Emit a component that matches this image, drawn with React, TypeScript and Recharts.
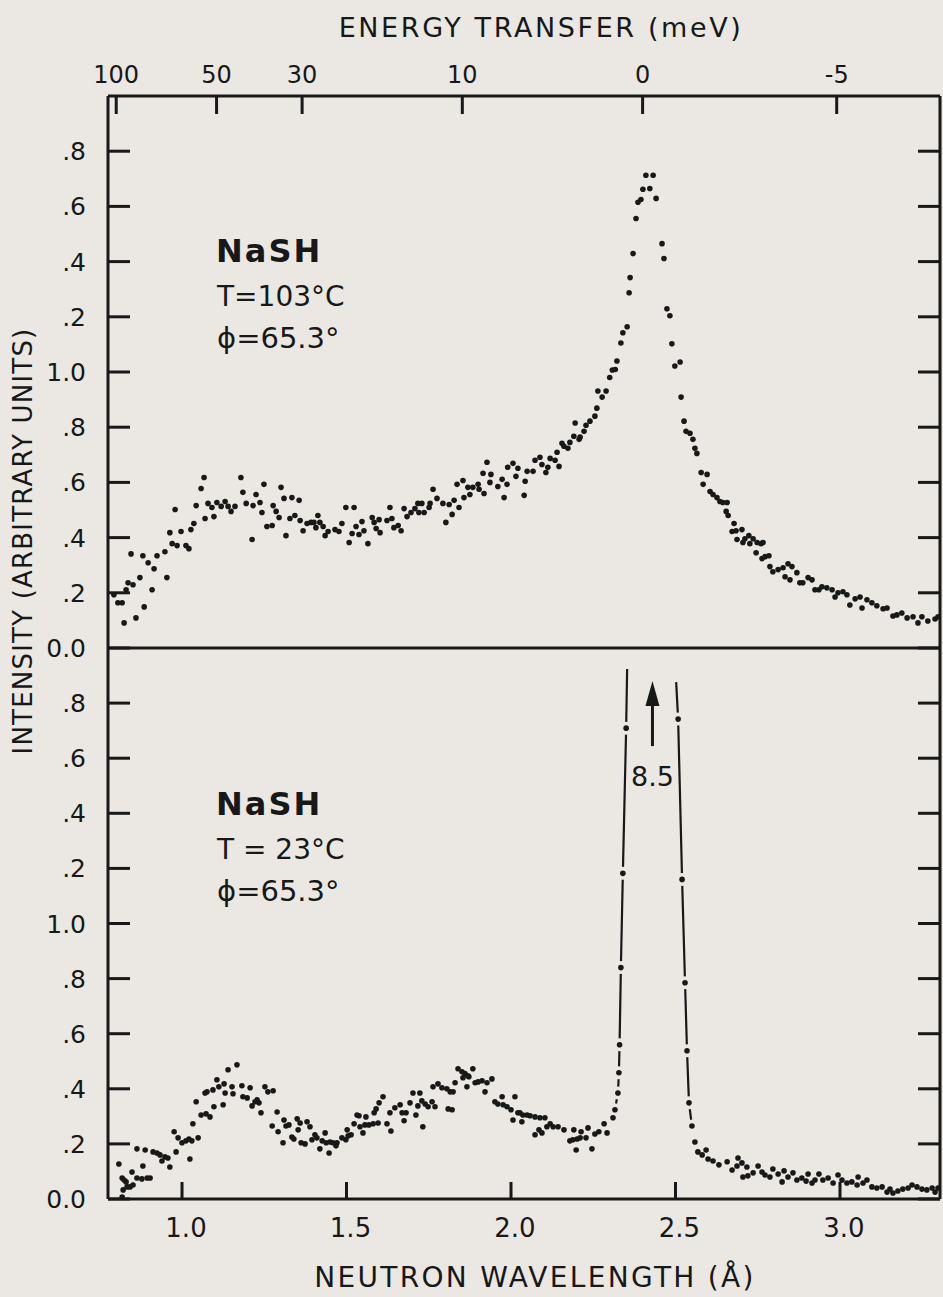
import React from "react";
import { ScatterChart, Scatter, XAxis, YAxis, ReferenceLine, ReferenceDot } from "recharts";

const BG = "#ebe8e3";
const INK = "#181818";
const FONT = "'DejaVu Sans', 'Liberation Sans', sans-serif";

// wavelength (Å) and intensity ranges, shared by both panels
const X_DOMAIN: [number, number] = [0.775, 3.304];
const Y_DOMAIN: [number, number] = [0, 2];

// bottom axis
const wavelengthTicks = [1.0, 1.5, 2.0, 2.5, 3.0];
const wavelengthLabels = ["1.0", "1.5", "2.0", "2.5", "3.0"];

// top axis: energy transfer marks, placed at their wavelength
const energyTickWl = [0.8, 1.105, 1.365, 1.852, 2.4, 2.99];
const energyLabels = ["100", "50", "30", "10", "0", "-5"];

const intensityTicks = [0, 0.2, 0.4, 0.6, 0.8, 1.0, 1.2, 1.4, 1.6, 1.8];
const intensityLabels = ["0.0", ".2", ".4", ".6", ".8", "1.0", ".2", ".4", ".6", ".8"];

// T = 103 C  [wavelength, intensity]
const hotLow: number[][] = [
  [0.793, 0.193], [0.805, 0.164], [0.818, 0.164], [0.824, 0.091], [0.83, 0.211], [0.836, 0.236],
  [0.845, 0.341], [0.851, 0.229], [0.86, 0.109], [0.872, 0.255], [0.881, 0.334], [0.885, 0.149],
  [0.897, 0.309], [0.909, 0.211], [0.915, 0.287], [0.924, 0.334], [0.948, 0.349], [0.954, 0.255],
  [0.963, 0.418], [0.97, 0.378], [0.979, 0.502], [0.985, 0.371], [0.997, 0.422], [1.012, 0.371],
  [1.021, 0.36], [1.027, 0.429], [1.036, 0.451], [1.043, 0.516], [1.058, 0.578], [1.067, 0.618],
  [1.07, 0.469], [1.079, 0.524], [1.091, 0.509], [1.097, 0.476], [1.106, 0.527], [1.119, 0.513],
  [1.131, 0.531], [1.14, 0.513], [1.149, 0.495], [1.161, 0.513], [1.179, 0.618], [1.185, 0.564],
  [1.195, 0.524], [1.213, 0.393], [1.216, 0.516], [1.225, 0.556], [1.237, 0.527], [1.243, 0.491],
  [1.249, 0.593], [1.258, 0.44], [1.274, 0.444], [1.277, 0.516], [1.286, 0.495], [1.295, 0.473],
  [1.301, 0.582], [1.31, 0.542], [1.316, 0.407], [1.328, 0.469], [1.334, 0.545], [1.343, 0.48],
  [1.356, 0.535], [1.359, 0.462], [1.368, 0.425], [1.38, 0.451], [1.392, 0.455], [1.401, 0.455],
  [1.407, 0.436], [1.413, 0.48], [1.419, 0.455], [1.429, 0.44], [1.435, 0.407], [1.444, 0.422],
  [1.465, 0.429], [1.477, 0.422], [1.486, 0.451], [1.498, 0.509], [1.508, 0.382], [1.517, 0.415],
  [1.523, 0.509], [1.529, 0.44], [1.538, 0.411], [1.547, 0.458], [1.553, 0.425], [1.565, 0.378],
  [1.578, 0.473], [1.584, 0.455], [1.59, 0.433], [1.599, 0.465], [1.602, 0.418], [1.623, 0.462],
  [1.632, 0.509], [1.638, 0.469], [1.644, 0.436], [1.657, 0.444], [1.666, 0.425], [1.675, 0.505],
  [1.684, 0.476], [1.696, 0.491], [1.708, 0.505], [1.717, 0.524], [1.72, 0.491], [1.729, 0.524],
  [1.736, 0.491], [1.751, 0.509], [1.754, 0.524], [1.763, 0.575], [1.775, 0.542], [1.793, 0.524],
  [1.802, 0.455], [1.812, 0.52], [1.821, 0.484], [1.827, 0.535], [1.836, 0.593], [1.842, 0.509],
  [1.854, 0.607], [1.857, 0.545], [1.869, 0.582], [1.875, 0.556], [1.884, 0.582], [1.9, 0.593],
  [1.903, 0.575], [1.915, 0.633], [1.918, 0.56], [1.927, 0.673], [1.936, 0.6], [1.939, 0.629],
  [1.96, 0.585], [1.973, 0.611], [1.979, 0.545], [1.988, 0.593], [1.99, 0.655], [2.006, 0.669],
  [2.015, 0.622], [2.021, 0.651],
];

const hotPeak: number[][] = [
  [2.04, 0.553], [2.043, 0.604], [2.049, 0.64], [2.067, 0.64], [2.073, 0.68], [2.088, 0.691],
  [2.094, 0.665], [2.106, 0.636], [2.112, 0.655], [2.119, 0.687], [2.134, 0.68], [2.14, 0.709],
  [2.146, 0.658], [2.155, 0.742], [2.161, 0.731], [2.173, 0.724], [2.179, 0.745], [2.191, 0.767],
  [2.195, 0.815], [2.207, 0.756], [2.21, 0.764], [2.222, 0.785], [2.228, 0.807], [2.24, 0.822],
  [2.255, 0.84], [2.261, 0.869], [2.264, 0.931], [2.277, 0.909], [2.289, 0.931], [2.3, 0.98],
  [2.308, 1.007], [2.317, 1.009], [2.322, 1.04], [2.334, 1.105], [2.34, 1.142], [2.353, 1.164],
  [2.359, 1.287], [2.362, 1.342], [2.371, 1.429], [2.38, 1.556], [2.386, 1.615], [2.395, 1.625],
  [2.401, 1.662], [2.41, 1.713], [2.422, 1.665], [2.432, 1.713], [2.441, 1.629], [2.459, 1.465],
  [2.465, 1.411], [2.474, 1.229], [2.483, 1.204], [2.489, 1.102], [2.498, 1.022], [2.514, 1.036],
  [2.517, 0.909], [2.526, 0.822], [2.532, 0.785], [2.544, 0.778], [2.553, 0.756], [2.559, 0.724],
  [2.565, 0.705], [2.578, 0.636], [2.584, 0.593], [2.596, 0.629], [2.605, 0.567], [2.614, 0.556],
  [2.626, 0.545], [2.635, 0.531], [2.644, 0.527], [2.657, 0.527],
];

const hotTail: number[][] = [
  [2.654, 0.495], [2.66, 0.48], [2.672, 0.422], [2.678, 0.451], [2.684, 0.425], [2.687, 0.393],
  [2.702, 0.429], [2.705, 0.382], [2.711, 0.396], [2.723, 0.407], [2.726, 0.378], [2.736, 0.396],
  [2.745, 0.345], [2.748, 0.382], [2.76, 0.378], [2.763, 0.324], [2.766, 0.382], [2.772, 0.331],
  [2.784, 0.334], [2.787, 0.295], [2.796, 0.276], [2.812, 0.284], [2.827, 0.291], [2.833, 0.258],
  [2.842, 0.305], [2.848, 0.247], [2.854, 0.295], [2.869, 0.273], [2.878, 0.236], [2.887, 0.236],
  [2.903, 0.255], [2.915, 0.247], [2.924, 0.211], [2.936, 0.211], [2.945, 0.222], [2.96, 0.218],
  [2.976, 0.211], [2.985, 0.185], [2.994, 0.2], [3.009, 0.204], [3.021, 0.193], [3.03, 0.156],
  [3.046, 0.178], [3.061, 0.185], [3.067, 0.145], [3.082, 0.175], [3.097, 0.164], [3.112, 0.153],
  [3.131, 0.142], [3.143, 0.145], [3.161, 0.116], [3.173, 0.12], [3.188, 0.127], [3.204, 0.109],
  [3.222, 0.113], [3.237, 0.091], [3.249, 0.113], [3.267, 0.098], [3.289, 0.105], [3.298, 0.113],
];

// T = 23 C
const coldLow: number[][] = [
  [0.808, 0.127], [0.818, 0.076], [0.824, 0.069], [0.83, 0.062], [0.821, 0.033], [0.833, 0.044],
  [0.842, 0.044], [0.851, 0.051], [0.818, 0.007], [0.848, 0.098], [0.863, 0.076], [0.878, 0.073],
  [0.894, 0.076], [0.903, 0.076], [0.863, 0.182], [0.881, 0.12], [0.888, 0.178], [0.912, 0.171],
  [0.924, 0.167], [0.933, 0.16], [0.939, 0.138], [0.948, 0.153], [0.957, 0.149], [0.963, 0.116],
  [0.976, 0.244], [0.982, 0.171], [0.988, 0.222], [1.0, 0.204], [1.012, 0.211], [1.021, 0.218],
  [1.03, 0.211], [1.024, 0.145], [1.033, 0.273], [1.043, 0.353], [1.049, 0.222], [1.058, 0.305],
  [1.073, 0.309], [1.085, 0.298], [1.07, 0.385], [1.076, 0.389], [1.094, 0.396], [1.097, 0.335],
  [1.106, 0.433], [1.112, 0.407], [1.125, 0.342], [1.128, 0.418], [1.131, 0.385], [1.14, 0.469],
  [1.152, 0.407], [1.155, 0.382], [1.167, 0.487], [1.182, 0.411], [1.185, 0.371], [1.198, 0.367],
  [1.207, 0.404], [1.213, 0.338], [1.222, 0.353], [1.228, 0.36], [1.234, 0.349], [1.24, 0.313],
  [1.252, 0.407], [1.261, 0.389], [1.277, 0.393], [1.274, 0.265], [1.289, 0.316], [1.292, 0.244],
  [1.307, 0.204], [1.31, 0.287], [1.316, 0.265], [1.325, 0.269], [1.334, 0.225], [1.34, 0.218],
  [1.35, 0.291], [1.359, 0.276], [1.353, 0.251], [1.362, 0.204], [1.374, 0.2], [1.38, 0.28],
  [1.389, 0.262], [1.395, 0.215], [1.404, 0.233], [1.41, 0.222], [1.419, 0.182], [1.426, 0.211],
  [1.435, 0.24], [1.438, 0.204], [1.447, 0.167], [1.45, 0.207], [1.459, 0.204], [1.468, 0.193],
  [1.471, 0.204], [1.486, 0.222], [1.498, 0.215], [1.505, 0.229], [1.514, 0.233], [1.502, 0.251],
  [1.523, 0.273], [1.532, 0.305], [1.538, 0.302], [1.541, 0.262], [1.55, 0.24], [1.556, 0.269],
  [1.559, 0.298], [1.568, 0.269], [1.581, 0.273], [1.584, 0.313], [1.59, 0.327], [1.599, 0.349],
  [1.611, 0.371], [1.596, 0.276], [1.623, 0.273], [1.635, 0.247], [1.632, 0.313], [1.647, 0.331],
  [1.663, 0.342], [1.669, 0.313], [1.681, 0.313], [1.675, 0.284], [1.693, 0.349], [1.702, 0.385],
  [1.723, 0.385], [1.711, 0.305], [1.717, 0.338], [1.729, 0.356], [1.732, 0.262], [1.739, 0.345],
  [1.748, 0.335], [1.76, 0.353], [1.769, 0.335], [1.763, 0.407], [1.778, 0.418], [1.79, 0.404],
  [1.805, 0.4], [1.815, 0.389], [1.824, 0.389], [1.809, 0.327], [1.821, 0.324], [1.83, 0.422],
  [1.839, 0.473], [1.851, 0.462], [1.86, 0.455], [1.869, 0.447], [1.854, 0.44], [1.866, 0.407],
  [1.872, 0.444], [1.884, 0.473], [1.891, 0.422], [1.9, 0.425], [1.912, 0.429], [1.921, 0.389],
  [1.927, 0.422], [1.942, 0.436], [1.951, 0.353], [1.96, 0.345], [1.973, 0.371], [1.976, 0.342],
  [1.988, 0.335], [2.0, 0.324], [2.006, 0.287], [2.012, 0.371], [2.021, 0.313],
];

const coldMid: number[][] = [
  [2.027, 0.313], [2.036, 0.305], [2.049, 0.305], [2.058, 0.302], [2.073, 0.298], [2.088, 0.295],
  [2.103, 0.295], [2.033, 0.28], [2.073, 0.233], [2.085, 0.251], [2.094, 0.24], [2.109, 0.262],
  [2.119, 0.273], [2.128, 0.262], [2.143, 0.262], [2.161, 0.251], [2.179, 0.211], [2.188, 0.215],
  [2.201, 0.218], [2.21, 0.222], [2.228, 0.222], [2.191, 0.251], [2.213, 0.244], [2.234, 0.258],
  [2.198, 0.178], [2.246, 0.182], [2.255, 0.236], [2.267, 0.244], [2.283, 0.273], [2.292, 0.24],
  [2.31, 0.295],
];

// dots sitting on the hand-drawn lines of the elastic peak
const coldPeakLeft: number[][] = [
  [2.316, 0.324], [2.325, 0.385], [2.328, 0.458], [2.33, 0.56], [2.334, 0.84], [2.34, 1.182], [2.35, 1.709],
];
const coldPeakLeftTop: number[] = [2.353, 1.924];
const coldPeakRightTop: number[] = [2.502, 1.876];
const coldPeakRight: number[][] = [
  [2.508, 1.742], [2.52, 1.16], [2.529, 0.785], [2.535, 0.538], [2.541, 0.349], [2.55, 0.265],
];

const coldTail: number[][] = [
  [2.559, 0.207], [2.568, 0.171], [2.581, 0.16], [2.593, 0.178], [2.599, 0.145], [2.614, 0.138],
  [2.632, 0.124], [2.657, 0.135], [2.672, 0.105], [2.687, 0.12], [2.69, 0.149], [2.702, 0.131],
  [2.717, 0.116], [2.705, 0.08], [2.72, 0.084], [2.736, 0.095], [2.751, 0.12], [2.763, 0.098],
  [2.772, 0.087], [2.787, 0.08], [2.796, 0.109], [2.812, 0.091], [2.824, 0.062], [2.83, 0.102],
  [2.842, 0.08], [2.857, 0.095], [2.869, 0.069], [2.884, 0.076], [2.897, 0.065], [2.903, 0.091],
  [2.915, 0.058], [2.924, 0.069], [2.936, 0.091], [2.948, 0.069], [2.964, 0.076], [2.979, 0.058],
  [2.994, 0.087], [3.006, 0.069], [3.021, 0.058], [3.036, 0.062], [3.052, 0.051], [3.055, 0.08],
  [3.07, 0.058], [3.082, 0.069], [3.097, 0.044], [3.112, 0.04], [3.128, 0.044], [3.143, 0.025],
  [3.152, 0.036], [3.161, 0.022], [3.176, 0.029], [3.191, 0.036], [3.207, 0.04], [3.219, 0.051],
  [3.234, 0.044], [3.249, 0.036], [3.264, 0.033], [3.28, 0.04], [3.289, 0.025], [3.298, 0.04],
];

// "8.5" arrow: peak height off the scale
const arrowWl = 2.43;
const arrowFrom = 1.644;
const arrowTip = 1.88;
const peakNote = "8.5";
const peakNoteY = 1.535;

const toXY = (rows: number[][]) => rows.map(([x, y]) => ({ x, y }));

const Dot = (p: any) => <circle cx={p.cx} cy={p.cy} r={2.8} fill={INK} />;
// dot with a clear ring so the drawn line breaks around it
const GapDot = (p: any) => (
  <g>
    <circle cx={p.cx} cy={p.cy} r={6.5} fill={BG} />
    <circle cx={p.cx} cy={p.cy} r={2.8} fill={INK} />
  </g>
);
const NoDot = () => <g />;

const LeftTick = (p: any) => {
  const i = intensityTicks.indexOf(p.payload.value);
  return (
    <g>
      <line x1={p.x} x2={p.x + 22} y1={p.y} y2={p.y} stroke={INK} strokeWidth={3} />
      <text x={p.x - 22} y={p.y + 9} textAnchor="end" fontSize={25} fill={INK} fontFamily={FONT}>
        {intensityLabels[i]}
      </text>
    </g>
  );
};

const RightTick = (p: any) => (
  <line x1={p.x} x2={p.x - 22} y1={p.y} y2={p.y} stroke={INK} strokeWidth={3} />
);

const TopTick = (p: any) => {
  const i = energyTickWl.indexOf(p.payload.value);
  return (
    <g>
      <line x1={p.x} x2={p.x} y1={p.y} y2={p.y + 18} stroke={INK} strokeWidth={3} />
      <text x={p.x} y={p.y - 13} textAnchor="middle" fontSize={24} fill={INK} fontFamily={FONT}>
        {energyLabels[i]}
      </text>
    </g>
  );
};

const BottomTick = (p: any) => {
  const i = wavelengthTicks.indexOf(p.payload.value);
  return (
    <g>
      <line x1={p.x} x2={p.x} y1={p.y} y2={p.y - 17} stroke={INK} strokeWidth={3} />
      <text x={p.x + 4} y={p.y + 38} textAnchor="middle" fontSize={26} fill={INK} fontFamily={FONT}>
        {wavelengthLabels[i]}
      </text>
    </g>
  );
};

const axisLine = { stroke: INK, strokeWidth: 3 };

const PanelNote = ({ y, t }: { y: number; t: string }) => (
  <g fill={INK} fontFamily={FONT}>
    <text x={216} y={y} fontSize={32} fontWeight="bold" letterSpacing={2}>NaSH</text>
    <text x={217} y={y + 44} fontSize={28}>{t}</text>
    <text x={217} y={y + 86} fontSize={29}>ϕ=65.3°</text>
  </g>
);

export default function App() {
  return (
    <div style={{ position: "absolute", left: 0, top: 0, width: 943, height: 1297, background: BG, overflow: "hidden" }}>
      {/* T = 103 C */}
      <div style={{ position: "absolute", left: 0, top: 0 }}>
        <ScatterChart width={943} height={680} margin={{ top: 56, right: 2, bottom: 32, left: 48 }}>
          <XAxis xAxisId="e" orientation="top" type="number" dataKey="x" domain={X_DOMAIN} ticks={energyTickWl}
            interval={0} height={40} allowDataOverflow axisLine={axisLine} tickLine={false} tickSize={0} tickMargin={0} tick={TopTick} />
          <YAxis yAxisId="l" type="number" dataKey="y" domain={Y_DOMAIN} ticks={intensityTicks} interval={0} width={60}
            allowDataOverflow axisLine={axisLine} tickLine={false} tickSize={0} tickMargin={0} tick={LeftTick} />
          <YAxis yAxisId="r" orientation="right" type="number" dataKey="y" domain={Y_DOMAIN} ticks={intensityTicks} interval={0}
            width={1} allowDataOverflow axisLine={axisLine} tickLine={false} tickSize={0} tickMargin={0} tick={RightTick} />
          <Scatter xAxisId="e" yAxisId="l" data={toXY(hotLow)} shape={Dot} isAnimationActive={false} />
          <Scatter xAxisId="e" yAxisId="l" data={toXY(hotPeak)} shape={Dot} isAnimationActive={false} />
          <Scatter xAxisId="e" yAxisId="l" data={toXY(hotTail)} shape={Dot} isAnimationActive={false} />
        </ScatterChart>
      </div>

      {/* T = 23 C */}
      <div style={{ position: "absolute", left: 0, top: 646 }}>
        <ScatterChart width={943} height={651} margin={{ top: 1, right: 2, bottom: 38, left: 48 }}>
          <XAxis xAxisId="d" orientation="top" type="number" dataKey="x" domain={X_DOMAIN} height={1}
            allowDataOverflow axisLine={axisLine} tickLine={false} tick={false} />
          <XAxis xAxisId="w" type="number" dataKey="x" domain={X_DOMAIN} ticks={wavelengthTicks} interval={0} height={60}
            allowDataOverflow axisLine={axisLine} tickLine={false} tickSize={0} tickMargin={0} tick={BottomTick} />
          <YAxis yAxisId="l" type="number" dataKey="y" domain={Y_DOMAIN} ticks={intensityTicks} interval={0} width={60}
            allowDataOverflow axisLine={axisLine} tickLine={false} tickSize={0} tickMargin={0} tick={LeftTick} />
          <YAxis yAxisId="r" orientation="right" type="number" dataKey="y" domain={Y_DOMAIN} ticks={intensityTicks} interval={0}
            width={1} allowDataOverflow axisLine={axisLine} tickLine={false} tickSize={0} tickMargin={0} tick={RightTick} />
          <Scatter xAxisId="w" yAxisId="l" data={toXY([...coldPeakLeft, coldPeakLeftTop])} shape={NoDot}
            line={{ stroke: INK, strokeWidth: 2.2 }} lineJointType="linear" isAnimationActive={false} />
          <Scatter xAxisId="w" yAxisId="l" data={toXY([coldPeakRightTop, ...coldPeakRight])} shape={NoDot}
            line={{ stroke: INK, strokeWidth: 2.2 }} lineJointType="linear" isAnimationActive={false} />
          <Scatter xAxisId="w" yAxisId="l" data={toXY([...coldPeakLeft, ...coldPeakRight])} shape={GapDot} isAnimationActive={false} />
          <Scatter xAxisId="w" yAxisId="l" data={toXY(coldLow)} shape={Dot} isAnimationActive={false} />
          <Scatter xAxisId="w" yAxisId="l" data={toXY(coldMid)} shape={Dot} isAnimationActive={false} />
          <Scatter xAxisId="w" yAxisId="l" data={toXY(coldTail)} shape={Dot} isAnimationActive={false} />
          <ReferenceLine xAxisId="w" yAxisId="l" segment={[{ x: arrowWl, y: arrowFrom }, { x: arrowWl, y: arrowTip - 0.06 }]}
            stroke={INK} strokeWidth={3} />
          <ReferenceDot xAxisId="w" yAxisId="l" x={arrowWl} y={arrowTip} r={1}
            shape={(p: any) => <polygon points={`${p.cx},${p.cy} ${p.cx - 7},${p.cy + 25} ${p.cx + 7},${p.cy + 25}`} fill={INK} />} />
          <ReferenceDot xAxisId="w" yAxisId="l" x={arrowWl} y={peakNoteY} r={1}
            shape={(p: any) => (
              <text x={p.cx} y={p.cy + 10} textAnchor="middle" fontSize={27} fill={INK} fontFamily={FONT}>{peakNote}</text>
            )} />
        </ScatterChart>
      </div>

      {/* titles and panel notes */}
      <svg width={943} height={1297} style={{ position: "absolute", left: 0, top: 0, pointerEvents: "none" }}>
        <text x={541} y={37} textAnchor="middle" fontSize={27} letterSpacing={2.6} fill={INK} fontFamily={FONT}>
          ENERGY TRANSFER (meV)
        </text>
        <text x={535} y={1287} textAnchor="middle" fontSize={28} letterSpacing={2.3} fill={INK} fontFamily={FONT}>
          NEUTRON WAVELENGTH (Å)
        </text>
        <text transform="translate(32,541) rotate(-90)" textAnchor="middle" fontSize={26} letterSpacing={1.2} fill={INK} fontFamily={FONT}>
          INTENSITY (ARBITRARY UNITS)
        </text>
        <PanelNote y={262} t="T=103°C" />
        <PanelNote y={815} t="T = 23°C" />
      </svg>
    </div>
  );
}
